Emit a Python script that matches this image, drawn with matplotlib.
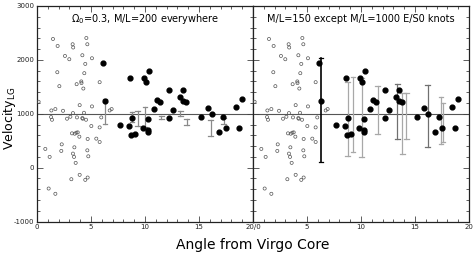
import matplotlib
matplotlib.use("Agg")
import matplotlib.pyplot as plt
from matplotlib.ticker import MultipleLocator, FixedLocator

# ---------------- data ----------------
open_x = [0.15, 1.48, 1.91, 3.30, 3.35, 4.57, 4.66, 2.59, 2.99, 4.20, 4.47, 5.09,
          1.88, 4.38, 2.07, 4.10, 4.12, 3.67, 4.29, 5.80, 1.33, 1.70, 2.41, 3.33,
          3.95, 4.35, 5.09, 6.73, 6.91, 1.30, 1.39, 2.78, 3.09, 3.70, 4.20, 4.23,
          4.54, 5.95, 5.03, 5.80, 3.24, 3.49, 3.64, 3.77, 3.92, 4.69, 5.49, 5.80,
          2.29, 0.77, 2.25, 3.46, 4.66, 1.17, 3.33, 3.43, 4.75, 3.58, 3.95, 3.18,
          4.47, 4.69, 1.08, 1.70]
open_v = [1222, 2388, 2258, 2290, 2230, 2406, 2290, 2073, 2012, 2086, 1925, 2030,
          1771, 1753, 1512, 1600, 1570, 1549, 1468, 1586, 1061, 1087, 1055, 1012,
          1160, 1018, 1136, 1061, 1087, 939, 889, 908, 944, 932, 920, 908,
          889, 932, 772, 747, 636, 630, 648, 654, 574, 532, 538, 476,
          432, 347, 310, 377, 321, 199, 260, 199, 210, 88, -134, -215,
          -227, -184, -388, -486]

filled_x = [6.11, 6.30, 8.58, 9.88, 10.12, 10.40, 12.19, 13.49, 13.24, 13.49, 13.80,
            11.08, 11.39, 10.80, 12.56, 15.83, 18.43, 19.00, 8.80, 7.69, 8.49, 8.70,
            9.07, 9.78, 10.31, 10.31, 10.31, 12.22, 15.22, 16.20, 17.19, 17.47,
            16.88, 18.70]
filled_v = [1949, 1235, 1672, 1660, 1598, 1796, 1450, 1438, 1309, 1235, 1216,
            1253, 1222, 1092, 1068, 1111, 1124, 1272, 920, 784, 765, 606,
            630, 728, 704, 661, 907, 920, 932, 987, 932, 728,
            661, 735]

# left-panel error bars (x, low, high)
err1_x = [6.30, 8.80, 9.32, 10.00, 11.51, 13.27, 13.86, 16.08, 17.30]
err1_lo = [809, 846, 772, 754, 902, 950, 791, 587, 815]
err1_hi = [1283, 1031, 1043, 1117, 957, 1055, 895, 883, 930]

# right-panel error bars
err2_x = [6.30, 8.77, 9.26, 10.06, 11.54, 13.36, 13.83, 14.20, 16.17, 17.41, 17.59]
err2_lo = [98, 223, 292, 195, 617, 525, 247, 538, 377, 445, 476]
err2_hi = [2041, 1592, 1690, 1672, 1512, 1561, 1383, 1383, 1525, 1320, 1198]
err2_col = ["#000000", "#a8a8a8", "#a8a8a8", "#a8a8a8", "#a8a8a8", "#707070",
            "#a8a8a8", "#a8a8a8", "#707070", "#a8a8a8", "#a8a8a8"]

left_title = r"$\Omega_0$=0.3, M/L=200 everywhere"
right_title = "M/L=150 except M/L=1000 E/S0 knots"
left_xlabels = ["0", "5", "10", "15", ""]
right_xlabels = ["20/0", "5", "10", "15", "20"]
ylabels = ["-1000", "0", "1000", "2000", "3000"]

# ---------------- figure ----------------
W, H = 474, 254
fig = plt.figure(figsize=(W / 100, H / 100), dpi=100)
bottom = 1 - 221.5 / H
height = 215.5 / H
ax1 = fig.add_axes([37 / W, bottom, 216 / W, height])
ax2 = fig.add_axes([253 / W, bottom, 216 / W, height])


def style(ax, xlabels, show_y):
    ax.set_xlim(0, 20)
    ax.set_ylim(-1000, 3000)
    ax.xaxis.set_major_locator(FixedLocator([0, 5, 10, 15, 20]))
    ax.xaxis.set_minor_locator(MultipleLocator(1))
    ax.yaxis.set_major_locator(FixedLocator([-1000, 0, 1000, 2000, 3000]))
    ax.yaxis.set_minor_locator(MultipleLocator(200))
    ax.set_xticklabels(xlabels)
    if show_y:
        ax.set_yticklabels(ylabels)
    else:
        ax.set_yticklabels([])
    ax.tick_params(which="both", direction="in", top=True, right=True,
                   width=0.6, colors="#444444", labelsize=5, pad=2,
                   labelcolor="#222222")
    ax.tick_params(which="major", length=4)
    ax.tick_params(which="minor", length=2)
    for s in ax.spines.values():
        s.set_linewidth(0.9)
        s.set_color("#222222")
    ax.axhline(1000, color="#555555", lw=0.8, zorder=1)


style(ax1, left_xlabels, True)
style(ax2, right_xlabels, False)

for ax in (ax1, ax2):
    ax.scatter(open_x, open_v, s=5, facecolors="none", edgecolors="#555555",
               linewidths=0.5, zorder=3)
    ax.scatter(filled_x, filled_v, s=12, color="black", zorder=4)

# left error bars
for x, lo, hi in zip(err1_x, err1_lo, err1_hi):
    ax1.plot([x, x], [lo, hi], color="#8a8a8a", lw=0.9, zorder=2)
    for yy in (lo, hi):
        ax1.plot([x - 0.22, x + 0.22], [yy, yy], color="#8a8a8a", lw=0.9, zorder=2)

# right error bars
for x, lo, hi, c in zip(err2_x, err2_lo, err2_hi, err2_col):
    lw = 1.2 if c == "#000000" else 0.9
    ax2.plot([x, x], [lo, hi], color=c, lw=lw, zorder=2)
    for yy in (lo, hi):
        ax2.plot([x - 0.22, x + 0.22], [yy, yy], color=c, lw=0.9, zorder=2)

ax1.text(10, 2760, left_title, ha="center", va="center", fontsize=7)
ax2.text(10, 2760, right_title, ha="center", va="center", fontsize=7)

fig.text(0.019, 0.535, r"Velocity$_{\rm LG}$", rotation=90, ha="center",
         va="center", fontsize=9)
fig.text(0.534, 0.035, "Angle from Virgo Core", ha="center", va="center",
         fontsize=10)

fig.savefig("out.png", dpi=100)
